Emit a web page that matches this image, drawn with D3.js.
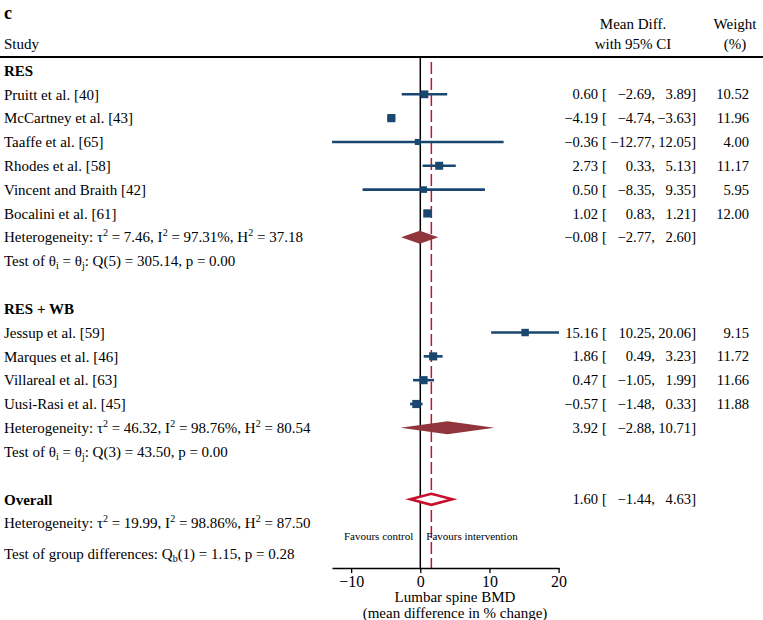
<!DOCTYPE html>
<html>
<head>
<meta charset="utf-8">
<script src="https://cdn.jsdelivr.net/npm/d3@7"></script>
<style>
  html, body { margin: 0; padding: 0; background: #fff; }
  svg { display: block; }
</style>
</head>
<body>
<svg id="chart" width="763" height="620"></svg>
<script>
// ---------------- data ----------------
const groupNames = ["RES", "RES + WB"];
const studyGroup = [0, 0, 0, 0, 0, 0, 1, 1, 1, 1];
const studies = ["Pruitt et al. [40]", "McCartney et al. [43]", "Taaffe et al. [65]", "Rhodes et al. [58]",
  "Vincent and Braith [42]", "Bocalini et al. [61]", "Jessup et al. [59]", "Marques et al. [46]",
  "Villareal et al. [63]", "Uusi-Rasi et al. [45]"];
const estimates = [0.60, -4.19, -0.36, 2.73, 0.50, 1.02, 15.16, 1.86, 0.47, -0.57];
const lowerCI = [-2.69, -4.74, -12.77, 0.33, -8.35, 0.83, 10.25, 0.49, -1.05, -1.48];
const upperCI = [3.89, -3.63, 12.05, 5.13, 9.35, 1.21, 20.06, 3.23, 1.99, 0.33];
const weights = [10.52, 11.96, 4.00, 11.17, 5.95, 12.00, 9.15, 11.72, 11.66, 11.88];

const groupEst = [-0.08, 3.92];
const groupLo = [-2.77, -2.88];
const groupHi = [2.60, 10.71];
const groupTau2 = ["7.46", "46.32"];
const groupI2 = ["97.31", "98.76"];
const groupH2 = ["37.18", "80.54"];
const groupQdf = [5, 3];
const groupQ = ["305.14", "43.50"];
const groupP = ["0.00", "0.00"];

const overallEst = 1.60, overallLo = -1.44, overallHi = 4.63;
const overallTau2 = "19.99", overallI2 = "98.86", overallH2 = "87.50";
const groupDiff = { df: 1, Q: "1.15", p: "0.28" };

const xTicks = [-10, 0, 10, 20];
const axisTitle = ["Lumbar spine BMD", "(mean difference in % change)"];
const favours = ["Favours control", "Favours intervention"];

// ---------------- layout ----------------
const FONT = "'Liberation Serif', 'Times New Roman', serif";
const svg = d3.select("#chart").style("font-family", FONT);

const x = d3.scaleLinear().domain([d3.min(lowerCI), d3.max(upperCI)]).range([332, 559]);
const y = d3.scaleLinear().domain([1, 18]).range([94.3, 499.3]);
const size = d3.scaleLinear().domain([0, 12]).range([5, 8.2]);
const fmt = d3.format(".2f");

const NAVY = "#1a476f", MAROON = "#90353b", RED = "#c8102e";
const axisY = 568;
const col = { est: 598, br: 602, lo: 655, hi: 696, w: 749 };
const NUMSIZE = 14.6;

// build rows
const rows = [];
let r = 0;
groupNames.forEach((g, gi) => {
  rows.push({ type: "group", i: r++, label: g });
  studies.forEach((s, si) => {
    if (studyGroup[si] === gi) rows.push({ type: "study", i: r++, si });
  });
  rows.push({ type: "het", i: r++, gi });
  rows.push({ type: "test", i: r++, gi });
  r++; // blank
});
rows.push({ type: "overall", i: r++ });
rows.push({ type: "ohet", i: r++ });

// title / header
svg.append("text").attr("x", 4).attr("y", 19).attr("font-size", 18).attr("font-weight", "bold").text("c");
svg.append("text").attr("x", 4).attr("y", 44).attr("dy", "0.35em").attr("font-size", 15).text("Study");
[["Mean Diff.", 633, 24], ["with 95% CI", 633, 44], ["Weight", 735, 24], ["(%)", 735, 44]].forEach(d => {
  svg.append("text").attr("x", d[1]).attr("y", d[2]).attr("dy", "0.35em").attr("text-anchor", "middle")
    .attr("font-size", 15).text(d[0]);
});
svg.append("line").attr("x1", 0).attr("x2", 763).attr("y1", 57).attr("y2", 57)
  .attr("stroke", "#000").attr("stroke-width", 2);

// reference lines
svg.append("line").attr("x1", x(0)).attr("x2", x(0)).attr("y1", 57).attr("y2", axisY)
  .attr("stroke", "#000").attr("stroke-width", 1.5);
svg.append("line").attr("x1", x(overallEst)).attr("x2", x(overallEst)).attr("y1", 62).attr("y2", axisY)
  .attr("stroke", RED).attr("stroke-width", 1.5).attr("stroke-dasharray", "12,4");

function ciText(yy, est, lo, hi, w) {
  const t = (xx, anchor, s) => svg.append("text").attr("x", xx).attr("y", yy).attr("dy", "0.35em")
    .attr("text-anchor", anchor).attr("font-size", NUMSIZE).text(s);
  t(col.est, "end", fmt(est));
  t(col.br, "start", "[");
  t(col.lo, "end", fmt(lo) + ",");
  t(col.hi, "end", fmt(hi) + "]");
  if (w !== undefined) t(col.w, "end", fmt(w));
}

function richText(xx, yy, parts) {
  const t = svg.append("text").attr("x", xx).attr("y", yy).attr("dy", "0.35em").attr("font-size", 15);
  let shift = 0;
  parts.forEach(p => {
    const want = p.sup ? -6 : p.sub ? 3 : 0;
    const ts = t.append("tspan").text(p.t);
    if (want !== shift) { ts.attr("dy", want - shift); shift = want; }
    if (p.sup || p.sub) ts.attr("font-size", 10);
  });
  return t;
}

function hetParts(tau2, i2, h2) {
  return [{ t: "Heterogeneity: τ" }, { t: "2", sup: true }, { t: " = " + tau2 + ", I" }, { t: "2", sup: true },
    { t: " = " + i2 + "%, H" }, { t: "2", sup: true }, { t: " = " + h2 }];
}

function diamond(yy, lo, est, hi, h) {
  return [[x(lo), yy], [x(est), yy - h], [x(hi), yy], [x(est), yy + h]];
}

rows.forEach(row => {
  const yy = y(row.i);
  if (row.type === "group") {
    svg.append("text").attr("x", 4).attr("y", yy).attr("dy", "0.35em").attr("font-size", 15)
      .attr("font-weight", "bold").text(row.label);
  } else if (row.type === "study") {
    const si = row.si;
    svg.append("text").attr("x", 4).attr("y", yy).attr("dy", "0.35em").attr("font-size", 15).text(studies[si]);
    svg.append("line").attr("x1", x(lowerCI[si])).attr("x2", x(upperCI[si])).attr("y1", yy).attr("y2", yy)
      .attr("stroke", NAVY).attr("stroke-width", 2.6);
    const s = size(weights[si]);
    svg.append("rect").attr("x", x(estimates[si]) - s / 2).attr("y", yy - s / 2).attr("width", s).attr("height", s)
      .attr("fill", NAVY);
    ciText(yy, estimates[si], lowerCI[si], upperCI[si], weights[si]);
  } else if (row.type === "het") {
    const gi = row.gi;
    richText(4, yy, hetParts(groupTau2[gi], groupI2[gi], groupH2[gi]));
    svg.append("polygon").attr("points", diamond(yy, groupLo[gi], groupEst[gi], groupHi[gi], 6.5).join(" "))
      .attr("fill", MAROON);
    ciText(yy, groupEst[gi], groupLo[gi], groupHi[gi]);
  } else if (row.type === "test") {
    const gi = row.gi;
    richText(4, yy, [{ t: "Test of θ" }, { t: "i", sub: true }, { t: " = θ" }, { t: "j", sub: true },
      { t: ": Q(" + groupQdf[gi] + ") = " + groupQ[gi] + ", p = " + groupP[gi] }]);
  } else if (row.type === "overall") {
    svg.append("text").attr("x", 4).attr("y", yy).attr("dy", "0.35em").attr("font-size", 15)
      .attr("font-weight", "bold").text("Overall");
    svg.append("polygon").attr("points", diamond(yy, overallLo, overallEst, overallHi, 5.5).join(" "))
      .attr("fill", "#fff").attr("stroke", RED).attr("stroke-width", 2.6).attr("stroke-linejoin", "miter");
    ciText(yy, overallEst, overallLo, overallHi);
  } else if (row.type === "ohet") {
    richText(4, yy, hetParts(overallTau2, overallI2, overallH2));
  }
});

richText(4, 554, [{ t: "Test of group differences: Q" }, { t: "b", sub: true },
  { t: "(" + groupDiff.df + ") = " + groupDiff.Q + ", p = " + groupDiff.p }]);

// favours labels
svg.append("text").attr("x", x(0) - 7).attr("y", 536).attr("dy", "0.35em").attr("text-anchor", "end")
  .attr("font-size", 11).text(favours[0]);
svg.append("text").attr("x", x(0) + 6).attr("y", 536).attr("dy", "0.35em").attr("text-anchor", "start")
  .attr("font-size", 11).text(favours[1]);

// axis
const ax = svg.append("g").attr("transform", `translate(0,${axisY})`)
  .call(d3.axisBottom(x).tickValues(xTicks).tickSize(5).tickSizeOuter(0).tickPadding(3));
ax.select(".domain").attr("stroke-width", 1.5);
ax.selectAll(".tick line").attr("stroke-width", 1.3);
ax.selectAll(".tick text").attr("font-size", 16).attr("font-family", FONT);

axisTitle.forEach((t, k) => {
  svg.append("text").attr("x", 455).attr("y", 597 + k * 16).attr("dy", "0.35em").attr("text-anchor", "middle")
    .attr("font-size", 15).text(t);
});
</script>
</body>
</html>
